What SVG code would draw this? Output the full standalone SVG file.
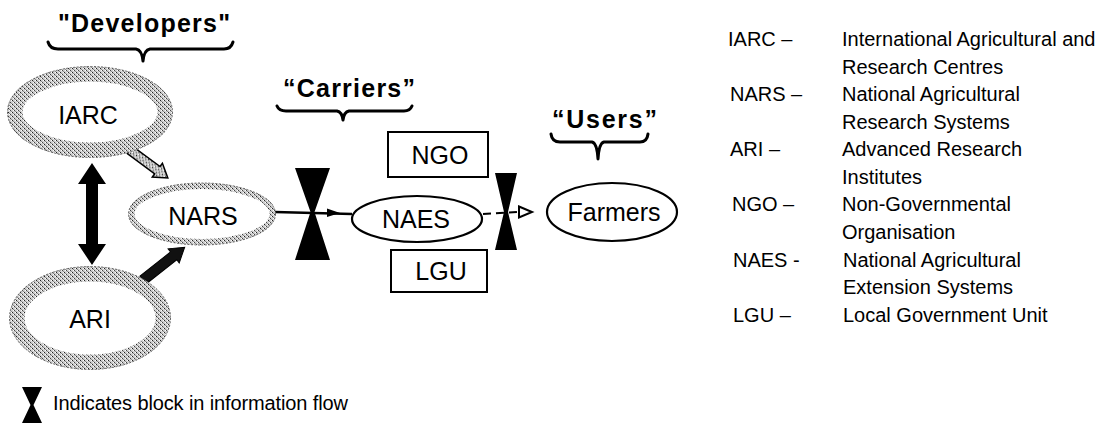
<svg xmlns="http://www.w3.org/2000/svg" width="1105" height="429" viewBox="0 0 1105 429">
<style>
  text { font-family: "Liberation Sans", Arial, sans-serif; fill: #000; }
  .head { font-size: 25px; font-weight: bold; }
  .lbl { font-size: 25px; text-anchor: middle; }
  .leg { font-size: 20px; }
  .brace { fill: none; stroke: #000; stroke-width: 3; stroke-linejoin: round; stroke-linecap: round; }
  .ring { fill: #fff; stroke: url(#stip); }
  .ringEdge { fill: none; stroke: #666; stroke-width: 1; stroke-dasharray: 2 1.5; }
  .box { fill: #fff; stroke: #000; stroke-width: 2; }
  .oval { fill: #fff; stroke: #000; stroke-width: 2.2; }
  .block { fill: #000; }
</style>
<defs>
  <pattern id="stip" width="4" height="4" patternUnits="userSpaceOnUse">
    <rect width="4" height="4" fill="#cfcfcf"/>
    <rect x="0" y="0" width="1" height="1" fill="#222"/>
    <rect x="2" y="2" width="1" height="1" fill="#444"/>
    <rect x="3" y="0" width="1" height="1" fill="#fff"/>
    <rect x="1" y="2" width="1" height="1" fill="#fff"/>
    <rect x="1" y="1" width="1" height="1" fill="#888"/>
    <rect x="3" y="3" width="1" height="1" fill="#888"/>
  </pattern>
</defs>
<rect width="1105" height="429" fill="#fff"/>

<!-- Headings with braces -->
<g id="heading-developers">
  <text class="head" x="58" y="32" textLength="172" lengthAdjust="spacing">"Developers"</text>
  <path class="brace" d="M48,42 Q50,49 58,49 L136,49 Q142,50 143,61 Q144,50 150,49 L224,49 Q231,49 233,42"/>
</g>
<g id="heading-carriers">
  <text class="head" x="283" y="97" textLength="132" lengthAdjust="spacing">“Carriers”</text>
  <path class="brace" d="M277,106 Q279,111 286,111 L337,111 Q342,112 343,120 Q344,112 349,111 L404,111 Q410,111 412,106"/>
</g>
<g id="heading-users">
  <text class="head" x="552" y="128" textLength="105" lengthAdjust="spacing">“Users”</text>
  <path class="brace" d="M551,134 Q552,142 560,142 L592,142 Q597,143 598,159 Q599,143 604,142 L640,142 Q647,142 648,134"/>
</g>

<!-- Connectors -->
<g id="connectors">
  <!-- IARC <-> ARI double arrow -->
  <polygon fill="#000" points="92,163 78,184 86,184 86,244 78,244 92,265 106,244 98,244 98,184 106,184"/>
  <!-- IARC -> NARS -->
  <polygon fill="url(#stip)" stroke="#000" stroke-width="1.5" transform="translate(130,150) rotate(36.4)" points="0,-4.5 34,-4.5 34,-8.5 47,0 34,8.5 34,4.5 0,4.5"/>
  <!-- ARI -> NARS -->
  <polygon fill="#111" stroke="#000" stroke-width="1" transform="translate(143,280) rotate(-38.2)" points="0,-5 39,-5 39,-9 53,0 39,9 39,5 0,5"/>
  <!-- NARS -> NAES -->
  <line x1="275" y1="212" x2="352" y2="214" stroke="#000" stroke-width="2.5"/>
  <polygon fill="#000" points="327,208.5 340,213 327,217"/>
  <!-- NAES -> Farmers (dashed) -->
  <line x1="483" y1="214" x2="518" y2="212" stroke="#000" stroke-width="2" stroke-dasharray="8 5"/>
  <polygon fill="#fff" stroke="#000" stroke-width="2" points="519,206.5 532,212 519,217.5"/>
</g>

<!-- Blocks (hourglasses) -->
<g id="block-1">
  <polygon class="block" points="295,168 330,168 314.5,212 330,260 295,260 310.5,212"/>
</g>
<g id="block-2">
  <polygon class="block" points="495,173 517,173 508,212 517,250 495,250 504,212"/>
</g>

<!-- Nodes -->
<g id="IARC">
  <ellipse class="ring" cx="90" cy="112" rx="75" ry="38" stroke-width="15"/>
  <ellipse class="ringEdge" cx="90" cy="112" rx="82.5" ry="45.5"/>
  <text class="lbl" x="88" y="124">IARC</text>
</g>
<g id="ARI">
  <ellipse class="ring" cx="90" cy="318" rx="73" ry="44" stroke-width="15"/>
  <ellipse class="ringEdge" cx="90" cy="318" rx="80.5" ry="51.5"/>
  <text class="lbl" x="90" y="328">ARI</text>
</g>
<g id="NARS">
  <ellipse class="ring" cx="202" cy="214" rx="70.5" ry="28" stroke-width="6"/>
  <ellipse class="ringEdge" cx="202" cy="214" rx="73.5" ry="31"/>
  <text class="lbl" x="203" y="225">NARS</text>
</g>
<g id="NGO">
  <rect class="box" x="388" y="132" width="100" height="45"/>
  <text class="lbl" x="440" y="164">NGO</text>
</g>
<g id="NAES">
  <ellipse class="oval" cx="417" cy="219" rx="65" ry="23"/>
  <text class="lbl" x="416" y="228">NAES</text>
</g>
<g id="LGU">
  <rect class="box" x="391" y="250" width="96" height="42"/>
  <text class="lbl" x="441" y="280">LGU</text>
</g>
<g id="Farmers">
  <ellipse class="oval" cx="612" cy="212" rx="65" ry="29"/>
  <text class="lbl" x="614" y="221">Farmers</text>
</g>

<!-- Legend -->
<g id="legend-abbrev">
  <text class="leg" x="728" y="46">IARC –</text>
  <text class="leg" x="842" y="46">International Agricultural and</text>
  <text class="leg" x="842" y="73.5">Research Centres</text>
  <text class="leg" x="730" y="101">NARS –</text>
  <text class="leg" x="842" y="101">National Agricultural</text>
  <text class="leg" x="842" y="128.5">Research Systems</text>
  <text class="leg" x="730" y="156">ARI –</text>
  <text class="leg" x="842" y="156">Advanced Research</text>
  <text class="leg" x="842" y="183.5">Institutes</text>
  <text class="leg" x="732" y="211">NGO –</text>
  <text class="leg" x="842" y="211">Non-Governmental</text>
  <text class="leg" x="842" y="238.5">Organisation</text>
  <text class="leg" x="733" y="267">NAES -</text>
  <text class="leg" x="843" y="267">National Agricultural</text>
  <text class="leg" x="843" y="294">Extension Systems</text>
  <text class="leg" x="733" y="322">LGU –</text>
  <text class="leg" x="843" y="322">Local Government Unit</text>
</g>
<g id="legend-block">
  <polygon class="block" points="22,387 42,387 33.5,405 42,423 22,423 30.5,405"/>
  <text class="leg" x="53" y="410" textLength="295" lengthAdjust="spacing">Indicates block in information flow</text>
</g>
</svg>
